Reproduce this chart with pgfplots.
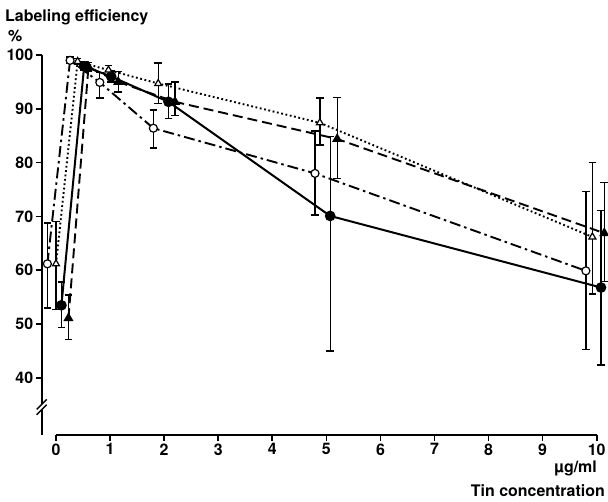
\documentclass[border=0pt]{standalone}
\usepackage{fontspec}
\setmainfont{TeX Gyre Heros}
\usepackage{pgfplots}
\pgfplotsset{compat=1.18}
\usepackage{pgfplotstable}

% solid line, filled circles
\pgfplotstableread{
x y ep em
0.10 53.5 4.3 4.1
0.52 97.9 0.8 0.8
1.02 96.0 1.0 1.0
2.08 91.3 3.3 3.1
5.07 70.1 14.7 25.1
10.08 56.8 14.3 14.4
}\solidtab
% dashed line, filled triangles
\pgfplotstableread{
x y ep em
0.23 51.1 4.3 3.9
0.60 97.8 0.8 0.8
1.15 95.0 1.9 1.9
2.20 91.3 3.7 2.5
5.20 84.4 7.7 7.3
10.14 66.9 9.4 9.0
}\dashedtab
% dotted line, open triangles
\pgfplotstableread{
x y ep em
0.00 61.2 7.8 8.5
0.40 98.8 0.6 0.6
0.97 97.2 0.9 0.9
1.89 94.7 3.8 3.7
4.88 87.4 4.6 4.1
9.92 66.2 13.8 10.6
}\dottedtab
% dash-dot line, open circles
\pgfplotstableread{
x y ep em
-0.16 61.2 7.6 8.2
0.26 99.0 0.6 0.6
0.81 94.9 1.8 2.9
1.80 86.4 3.4 3.7
4.79 78.0 7.9 7.7
9.80 59.9 14.7 14.6
}\dashdottab

\begin{document}
\begin{tikzpicture}[font=\fontsize{16}{16}\selectfont\bfseries]
\useasboundingbox (0,0) rectangle (608bp,502bp);
\begin{axis}[
  at={(41.7bp,67bp)}, anchor=south west,
  scale only axis, width=555bp, height=380bp,
  xmin=-0.265, xmax=10, ymin=29.4, ymax=100,
  axis x line=bottom, axis y line=left,
  axis line style={draw=none,-},
  tick align=outside,
  major tick length=6bp,
  tick style={black, line width=1.6bp},
  xtick={0,1,...,10}, ytick={40,50,...,100},
  /pgf/number format/assume math mode=true,
  xticklabel style={font=\fontsize{16}{16}\selectfont\bfseries, yshift=1bp},
  yticklabel style={font=\fontsize{16}{16}\selectfont\bfseries, xshift=1bp},
  clip=false,
  error bars/error bar style={solid, line width=1.3bp},
  error bars/error mark options={solid, rotate=90, mark size=3.8bp, line width=1.3bp},
]
\addplot[black, line width=2bp, solid, mark=*, mark size=4.3bp,
  mark options={solid, fill=black},
  error bars/.cd, y dir=both, y explicit]
  table[x=x, y=y, y error plus=ep, y error minus=em]{\solidtab};
\addplot[black, line width=1.9bp, dash pattern=on 10bp off 5bp, mark=triangle*, mark size=4bp,
  mark options={solid, fill=black},
  error bars/.cd, y dir=both, y explicit]
  table[x=x, y=y, y error plus=ep, y error minus=em]{\dashedtab};
\addplot[black, line width=1.9bp, dash pattern=on 1.8bp off 2.6bp, mark=triangle*, mark size=4bp,
  mark options={solid, fill=white, line width=1.2bp},
  error bars/.cd, y dir=both, y explicit]
  table[x=x, y=y, y error plus=ep, y error minus=em]{\dottedtab};
\addplot[black, line width=1.9bp, dash pattern=on 11bp off 4bp on 2.5bp off 4bp, mark=*, mark size=4bp,
  mark options={solid, fill=white, line width=1.2bp},
  error bars/.cd, y dir=both, y explicit]
  table[x=x, y=y, y error plus=ep, y error minus=em]{\dashdottab};

% axis lines
\draw[line width=2bp] (axis cs:0,29.4) -- (axis cs:10,29.4);
\draw[line width=2bp] (axis cs:-0.265,29.4) -- (axis cs:-0.265,34.1);
\draw[line width=2bp] (axis cs:-0.265,35.1) -- (axis cs:-0.265,100);
\draw[line width=1.4bp] ([xshift=-5bp,yshift=-5bp]axis cs:-0.265,34.1) -- ([xshift=5bp,yshift=5bp]axis cs:-0.265,34.1);
\draw[line width=1.4bp] ([xshift=-5bp,yshift=-5bp]axis cs:-0.265,35.1) -- ([xshift=5bp,yshift=5bp]axis cs:-0.265,35.1);
\end{axis}
\node[anchor=base west, inner sep=0] at (5bp,480.3bp) {Labeling efficiency};
\node[anchor=base west, inner sep=0] at (8bp,460.3bp) {\%};
\node[anchor=base east, inner sep=0] at (597bp,30bp) {µg/ml};
\node[anchor=base east, inner sep=0] at (605bp,5.3bp) {Tin concentration};
\end{tikzpicture}
\end{document}
